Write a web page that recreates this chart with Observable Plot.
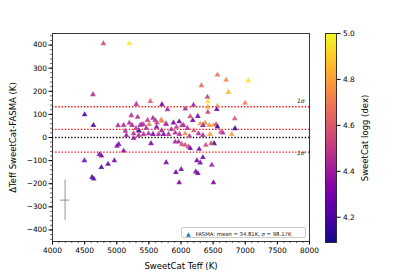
<!DOCTYPE html>
<html>
<head>
<meta charset="utf-8">
<script src="https://cdn.jsdelivr.net/npm/d3@7"></script>
<script src="https://cdn.jsdelivr.net/npm/@observablehq/plot@0.6"></script>
<style>
  html, body { margin: 0; padding: 0; background: white; }
  #wrap { position: relative; width: 415px; height: 277px; font-family: "DejaVu Sans", sans-serif; }
  #wrap svg { position: absolute; top: 0; }
  #legend { position: absolute; left: 181px; top: 227px; width: 125px; height: 11px;
    border: 0.8px solid #ccc; border-radius: 2px; background: rgba(255,255,255,0.85);
    font-size: 5.3px; line-height: 11px; white-space: nowrap; color: #111; box-sizing: border-box; }
  #legend .m { color: #1f77b4; font-size: 6px; margin-left: 4px; margin-right: 5px; }
</style>
</head>
<body>
<div id="wrap"></div>
<script>
// ---- data ----
const teff = [4792,5196,4630,4500,4637,5020,5107,5134,5196,5227,5304,5325,5263,5351,5366,5418,5522,5506,5564,5600,
  5703,5693,5790,5765,5883,5972,6013,6068,6194,6262,6143,6318,6567,6702,7048,6738,6412,6418,6418,6567,
  6557,6418,6997,6836,6841,6505,6443,6376,6340,6620,6651,6790,6453,6516,6470,6386,6340,6298,6479,6505,
  5237,5392,5626,5703,5770,6039,6183,6298,6547,6567,5263,5341,5418,5495,5564,5651,5729,5806,5910,5977,
  6065,6132,6272,6340,5341,5030,5004,5107,4730,4761,4497,4963,4865,4761,4616,4641,5533,5910,5962,6013,
  6065,6117,6143,5770,6283,6247,6003,5921,6230,6262,5972,5460,5620,5850,5930,6100,6200,5700,5150,5300,5480];
const dteff = [407,407,186,99,53,52,53,28,63,95,144,88,-3,27,53,55,157,57,84,74,
  143,77,121,60,64,69,52,124,140,92,91,225,271,249,246,196,175,156,132,136,
  122,110,149,82,39,53,53,63,53,24,20,14,14,-26,-26,-33,-86,-109,-119,-195,
  53,57,64,71,57,53,74,60,57,46,17,10,14,17,14,14,14,14,20,14,
  17,6,17,10,31,-29,-37,-58,-73,-79,-100,-100,-115,-129,-172,-179,-26,-19,-19,-29,
  -33,-40,-47,-108,-50,-100,-138,-151,-148,-155,-195,40,45,35,45,40,30,30,10,40,75];
const logg = [4.55,4.97,4.45,4.2,4.22,4.45,4.45,4.45,4.45,4.45,4.45,4.45,4.4,4.45,4.3,4.45,4.62,4.7,4.42,4.45,
  4.28,4.72,4.42,4.4,4.3,4.28,4.45,4.45,4.4,4.28,4.55,4.65,4.68,4.75,4.95,4.85,4.5,4.95,4.8,4.75,
  4.28,4.52,4.72,4.58,4.15,4.78,4.78,4.75,4.3,4.55,4.45,4.8,4.8,4.15,4.55,4.55,4.28,4.3,4.42,4.32,
  4.42,4.45,4.5,4.72,4.45,4.45,4.28,4.78,4.55,4.15,4.45,4.45,4.45,4.45,4.3,4.45,4.3,4.45,4.45,4.45,
  4.75,4.5,4.45,4.45,4.2,4.32,4.32,4.35,4.3,4.32,4.3,4.3,4.25,4.2,4.18,4.22,4.3,4.42,4.42,4.55,
  4.55,4.5,4.3,4.3,4.3,4.3,4.3,4.28,4.28,4.3,4.32,4.45,4.3,4.45,4.5,4.45,4.6,4.4,4.4,4.5,4.5];

const meanDiff = 34.81;
const sigmaDiff = 98.17;
const sigmaLabels = [{x: 7865, y: 156, t: "1σ"}, {x: 7865, y: -69, t: "1σ"}];
const errCross = [{x: 4196, y: -271, xerr: 72, yerr: 87}];

const xTicks = [4000,4500,5000,5500,6000,6500,7000,7500,8000];
const yTicks = [-400,-300,-200,-100,0,100,200,300,400];
const cTicks = [4.2,4.4,4.6,4.8,5.0];
const xLabel = "SweetCat Teff (K)";
const yLabel = "ΔTeff SweetCat-FASMA (K)";
const cLabel = "SweetCat logg (dex)";
const legendText = "FASMA: mean = 34.81K, σ = 98.17K";

// ---- build ----
const data = teff.map((t, i) => ({teff: t, d: dteff[i], logg: logg[i]}));
const colorScale = {type: "linear", scheme: "plasma", domain: [4.09, 5.0]};
const font = {fontFamily: "DejaVu Sans, sans-serif", fontSize: "7px", background: "white", overflow: "visible"};

const main = Plot.plot({
  width: 415, height: 277,
  marginLeft: 52, marginRight: 106, marginTop: 33, marginBottom: 36,
  style: font,
  x: {domain: [4000, 8000]},
  y: {domain: [-450, 450]},
  color: colorScale,
  marks: [
    Plot.ruleY([0], {stroke: "black", strokeWidth: 1.3, strokeDasharray: "1.3,1.9"}),
    Plot.ruleY([meanDiff, meanDiff + sigmaDiff, meanDiff - sigmaDiff], {stroke: "red", strokeWidth: 1.3, strokeDasharray: "1.3,1.9"}),
    Plot.dot(data, {x: "teff", y: "d", fill: "logg", symbol: "triangle", r: 2.2, fillOpacity: 0.9, stroke: "white", strokeWidth: 0.3, strokeOpacity: 0.6}),
    Plot.ruleX(errCross, {x: "x", y1: d => d.y - d.yerr, y2: d => d.y + d.yerr, stroke: "#777", strokeWidth: 0.8}),
    Plot.ruleY(errCross, {y: "y", x1: d => d.x - d.xerr, x2: d => d.x + d.xerr, stroke: "#777", strokeWidth: 0.8}),
    Plot.text(sigmaLabels, {x: "x", y: "y", text: "t", fontSize: 6, fill: "#222", fontStyle: "italic"}),
    Plot.axisX(d3.range(4000, 8001, 100), {tickSize: 2, text: null, label: null, strokeWidth: 0.6}),
    Plot.axisY(d3.range(-440, 441, 20), {tickSize: 2, text: null, label: null, strokeWidth: 0.6}),
    Plot.axisX(xTicks, {tickSize: 3.5, tickPadding: 3, tickFormat: d3.format("d"), label: null, fontSize: 7.4, fill: "black"}),
    Plot.axisY(yTicks, {tickSize: 3.5, tickPadding: 2, tickFormat: d3.format("d"), label: null, fontSize: 7.4, fill: "black"}),
    Plot.frame({stroke: "#222", strokeWidth: 0.9}),
    Plot.text([xLabel], {frameAnchor: "bottom", dy: 25, fontSize: 8.5, fill: "black", textAnchor: "middle", lineAnchor: "middle"}),
    Plot.text([yLabel], {frameAnchor: "left", dx: -39, rotate: -90, fontSize: 8.5, fill: "black", textAnchor: "middle", lineAnchor: "middle"})
  ]
});

const cbar = Plot.plot({
  width: 115, height: 277,
  marginLeft: 25, marginRight: 79, marginTop: 33, marginBottom: 35,
  style: {...font, background: "transparent"},
  x: {domain: [0, 1], axis: null},
  y: {domain: [4.09, 5.0]},
  color: colorScale,
  marks: [
    Plot.raster({x1: 0, x2: 1, y1: 4.09, y2: 5.0, fill: (x, y) => y, pixelSize: 1, interpolate: "none"}),
    Plot.axisY(cTicks, {anchor: "right", tickSize: 3.5, tickPadding: 3, tickFormat: d3.format(".1f"), label: null, fontSize: 7.4, fill: "black"}),
    Plot.frame({stroke: "#222", strokeWidth: 0.9}),
    Plot.text([cLabel], {frameAnchor: "right", dx: 29, rotate: -90, fontSize: 8.5, fill: "black", textAnchor: "middle", lineAnchor: "middle"})
  ]
});

const wrap = document.getElementById("wrap");
main.style.left = "0px";
cbar.style.left = "300px";
wrap.appendChild(main);
wrap.appendChild(cbar);
const leg = document.createElement("div");
leg.id = "legend";
leg.innerHTML = '<span class="m">▲</span>' + legendText;
wrap.appendChild(leg);
</script>
</body>
</html>
